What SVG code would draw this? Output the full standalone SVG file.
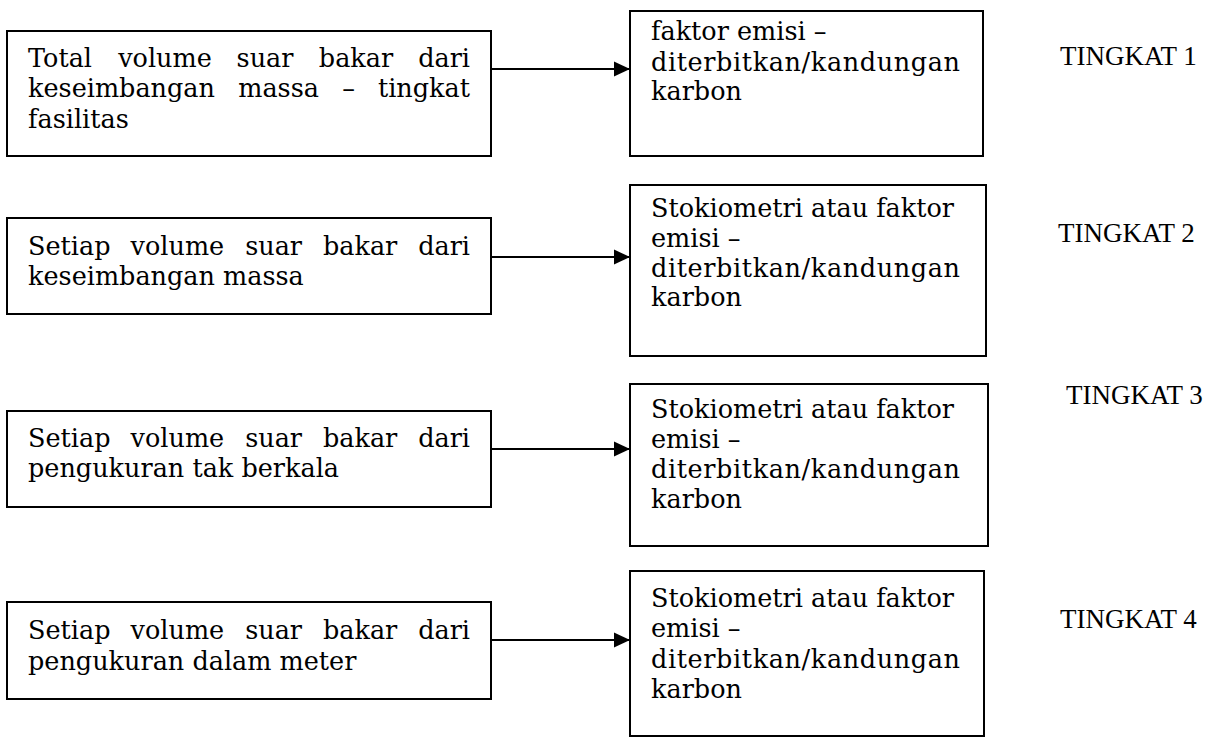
<svg xmlns="http://www.w3.org/2000/svg" width="1216" height="738" viewBox="0 0 1216 738">
<style>
.box{fill:#fff;stroke:#000;stroke-width:2}
.t{font-family:"DejaVu Serif","Liberation Serif",serif;font-size:25.5px;fill:#000}
.m{text-anchor:middle}
.e{text-anchor:end}
.lvl{font-family:"Liberation Serif","Times New Roman",serif;font-size:27px;fill:#000}
.conn{stroke:#000;stroke-width:2;fill:none}
</style>
<defs>
<marker id="ah" markerUnits="userSpaceOnUse" markerWidth="16" markerHeight="16" refX="16" refY="8" orient="auto">
<path d="M0,0.5 L16,8 L0,15.5 Z" fill="#000"/>
</marker>
</defs>
<rect width="1216" height="738" fill="#fff"/>
<g id="connectors">
<line class="conn" x1="491" y1="69" x2="630" y2="69" marker-end="url(#ah)"/>
<line class="conn" x1="491" y1="257" x2="630" y2="257" marker-end="url(#ah)"/>
<line class="conn" x1="491" y1="449" x2="630" y2="449" marker-end="url(#ah)"/>
<line class="conn" x1="491" y1="640" x2="630" y2="640" marker-end="url(#ah)"/>
</g>
<g id="src1">
<rect class="box" x="7" y="31" width="484" height="125"/>
<text class="t" x="28" y="67">Total</text>
<text class="t m" x="165" y="67">volume</text>
<text class="t m" x="265" y="67">suar</text>
<text class="t m" x="356" y="67">bakar</text>
<text class="t e" x="470" y="67">dari</text>
<text class="t" x="28" y="97">keseimbangan</text>
<text class="t m" x="278.6" y="97">massa</text>
<text class="t m" x="348.6" y="97">–</text>
<text class="t e" x="470" y="97">tingkat</text>
<text class="t" x="28" y="128">fasilitas</text>
</g>
<g id="ef1">
<rect class="box" x="630" y="11" width="353" height="145"/>
<text class="t" x="651" y="40">faktor emisi –</text>
<text class="t" x="651" y="70.5" textLength="309" lengthAdjust="spacing">diterbitkan/kandungan</text>
<text class="t" x="651" y="100">karbon</text>
</g>
<g id="lvl1"><text class="lvl" x="1060" y="65">TINGKAT 1</text></g>
<g id="src2">
<rect class="box" x="7" y="218" width="484" height="96"/>
<text class="t" x="28" y="255">Setiap</text>
<text class="t m" x="177.4" y="255">volume</text>
<text class="t m" x="273.6" y="255">suar</text>
<text class="t m" x="360.1" y="255">bakar</text>
<text class="t e" x="470" y="255">dari</text>
<text class="t" x="28" y="285">keseimbangan massa</text>
</g>
<g id="ef2">
<rect class="box" x="630" y="185" width="356" height="171"/>
<text class="t" x="651" y="217">Stokiometri atau faktor</text>
<text class="t" x="651" y="247">emisi –</text>
<text class="t" x="651" y="277" textLength="309" lengthAdjust="spacing">diterbitkan/kandungan</text>
<text class="t" x="651" y="306">karbon</text>
</g>
<g id="lvl2"><text class="lvl" x="1058" y="242">TINGKAT 2</text></g>
<g id="src3">
<rect class="box" x="7" y="411" width="484" height="96"/>
<text class="t" x="28" y="447">Setiap</text>
<text class="t m" x="177.4" y="447">volume</text>
<text class="t m" x="273.6" y="447">suar</text>
<text class="t m" x="360.1" y="447">bakar</text>
<text class="t e" x="470" y="447">dari</text>
<text class="t" x="28" y="477">pengukuran tak berkala</text>
</g>
<g id="ef3">
<rect class="box" x="630" y="384" width="358" height="162"/>
<text class="t" x="651" y="418">Stokiometri atau faktor</text>
<text class="t" x="651" y="448">emisi –</text>
<text class="t" x="651" y="478" textLength="309" lengthAdjust="spacing">diterbitkan/kandungan</text>
<text class="t" x="651" y="508">karbon</text>
</g>
<g id="lvl3"><text class="lvl" x="1066" y="404">TINGKAT 3</text></g>
<g id="src4">
<rect class="box" x="7" y="602" width="484" height="97"/>
<text class="t" x="28" y="639">Setiap</text>
<text class="t m" x="177.4" y="639">volume</text>
<text class="t m" x="273.6" y="639">suar</text>
<text class="t m" x="360.1" y="639">bakar</text>
<text class="t e" x="470" y="639">dari</text>
<text class="t" x="28" y="670">pengukuran dalam meter</text>
</g>
<g id="ef4">
<rect class="box" x="630" y="571" width="354" height="165"/>
<text class="t" x="651" y="607">Stokiometri atau faktor</text>
<text class="t" x="651" y="637">emisi –</text>
<text class="t" x="651" y="667.5" textLength="309" lengthAdjust="spacing">diterbitkan/kandungan</text>
<text class="t" x="651" y="698">karbon</text>
</g>
<g id="lvl4"><text class="lvl" x="1060" y="628">TINGKAT 4</text></g>
</svg>
